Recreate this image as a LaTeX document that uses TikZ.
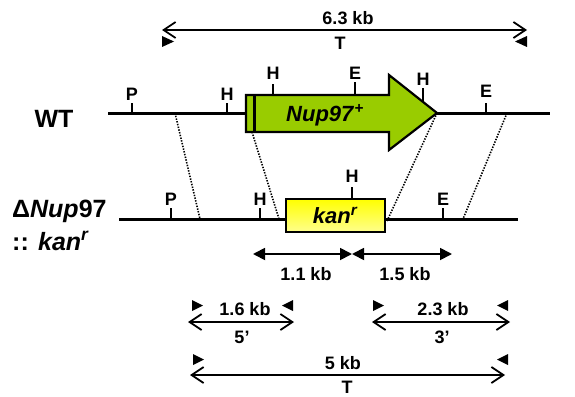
\documentclass[tikz,border=0pt]{standalone}
\usepackage{fontspec}
\setmainfont{Liberation Sans}
\usetikzlibrary{arrows.meta}
\definecolor{nupgreen}{RGB}{153,204,0}
\begin{document}
\begin{tikzpicture}[x=1pt,y=-1pt,
  dna/.style={line width=3pt},
  ticks/.style={line width=2pt},
  site/.style={font=\fontsize{18}{18}\selectfont\bfseries, inner sep=0pt, anchor=base},
  lbl/.style={font=\fontsize{18}{18}\selectfont\bfseries, inner sep=0pt, anchor=base},
  big/.style={font=\fontsize{25}{25}\selectfont\bfseries, inner sep=0pt, anchor=base west},
  hom/.style={dash pattern=on 1.4pt off 1.4pt, line width=1.6pt},
  meas/.style={line width=1.8pt, {Straight Barb[length=12pt,width=16pt]}-{Straight Barb[length=12pt,width=16pt]}},
  frag/.style={line width=1.8pt, {Triangle[length=12pt,width=12pt]}-{Triangle[length=12pt,width=12pt]}},
  kanbox/.style={draw, line width=2.2pt, minimum width=99pt, minimum height=33pt, inner sep=0pt,
    top color=yellow, bottom color=yellow!45!white, font=\fontsize{22}{22}\selectfont\bfseries}
]
\useasboundingbox (0,0) rectangle (575,396);

% ---------- top measurement (6.3 kb, T) ----------
\coordinate (tL) at (162,30);
\coordinate (tR) at (527,30);
\draw[meas] (tL) -- (tR);
\node[lbl] (t63) at (348,25) {6.3 kb};
\node[lbl] (tT) at (340,50) {T};
\fill (162,36) -- (174,41.5) -- (162,47) -- cycle;
\fill (527,36) -- (515,41.5) -- (527,47) -- cycle;

% ---------- WT locus ----------
\node[big, anchor=base] (wt) at (54,127) {WT};
\coordinate (wtL) at (108,113);
\coordinate (wtR) at (550,113);
\draw[dna] (wtL) -- (wtR);
\draw[line width=2.2pt, fill=nupgreen, line join=miter]
  (246,95) -- (389,95) -- (389,75) -- (437,113) -- (389,150) -- (389,132) -- (246,132) -- cycle;
\draw[line width=3pt] (254,95) -- (254,132);
\node[inner sep=0pt, anchor=base, font=\fontsize{22}{22}\selectfont\bfseries] (nup) at (325,121)
  {\textit{Nup97}\textsuperscript{\textit{+}}};

\draw[ticks] (132,113) -- (132,103);
\node[site] (wP) at (132,100) {P};
\draw[ticks] (227,113) -- (227,103);
\node[site] (wH1) at (227,100) {H};
\draw[ticks] (273,95) -- (273,84);
\node[site] (wH2) at (273,79) {H};
\draw[ticks] (355,95) -- (355,82);
\node[site] (wE1) at (355,79) {E};
\draw[ticks] (423,101) -- (423,88);
\node[site] (wH3) at (423,85) {H};
\draw[ticks] (486,113) -- (486,103);
\node[site] (wE2) at (486,97) {E};

% ---------- homology (dotted) ----------
\coordinate (w1) at (175,113);
\coordinate (w2) at (252,132);
\coordinate (w3) at (437,113);
\coordinate (w4) at (507,113);
\coordinate (d1) at (200,219);
\coordinate (d2) at (279,219);
\coordinate (d3) at (387,221);
\coordinate (d4) at (463,219);
\draw[hom] (w1) -- (d1);
\draw[hom] (w2) -- (d2);
\draw[hom] (w3) -- (d3);
\draw[hom] (w4) -- (d4);

% ---------- deletion locus ----------
\node[big] (dname) at (12,217) {Δ\textit{Nup}97};
\node[big] (dname2) at (12,250) {:: \textit{kan}\textsuperscript{\textit{r}}};
\coordinate (dL) at (119,219);
\coordinate (dR) at (518,219);
\draw[dna] (dL) -- (dR);
\node[kanbox] (kan) at (335.5,215.5) {\textit{kan}\textsuperscript{\textit{r}}};

\draw[ticks] (171,219) -- (171,208);
\node[site] (dP) at (171,205) {P};
\draw[ticks] (260,219) -- (260,208);
\node[site] (dH1) at (260,205) {H};
\draw[ticks] (352,199) -- (352,187);
\node[site] (dH2) at (352,182) {H};
\draw[ticks] (443,219) -- (443,208);
\node[site] (dE) at (443,205) {E};

% ---------- probe fragments ----------
\coordinate (f1) at (253,254);
\coordinate (f2) at (352,254);
\coordinate (f3) at (452,254);
\draw[frag] (f1) -- (f2);
\draw[frag] (f2) -- (f3);
\node[lbl] (l11) at (306,280) {1.1 kb};
\node[lbl] (l15) at (405,280) {1.5 kb};

% ---------- 5' PCR ----------
\coordinate (a1) at (188,322);
\coordinate (a2) at (294,322);
\draw[meas] (a1) -- (a2);
\node[lbl] (l16) at (245,315) {1.6 kb};
\node[lbl] (l5p) at (242,343) {5’};
\fill (192,300) -- (203,305.5) -- (192,311) -- cycle;
\fill (293,300) -- (282,305.5) -- (293,311) -- cycle;

% ---------- 3' PCR ----------
\coordinate (b1) at (372,322);
\coordinate (b2) at (510,322);
\draw[meas] (b1) -- (b2);
\node[lbl] (l23) at (443,315) {2.3 kb};
\node[lbl] (l3p) at (442,343) {3’};
\fill (373,300) -- (384,305.5) -- (373,311) -- cycle;
\fill (508,300) -- (497,305.5) -- (508,311) -- cycle;

% ---------- total ----------
\coordinate (c1) at (190,375);
\coordinate (c2) at (505,375);
\draw[meas] (c1) -- (c2);
\node[lbl] (l5) at (343,369) {5 kb};
\node[lbl] (lT) at (347,393) {T};
\fill (193,354) -- (204,359.5) -- (193,365) -- cycle;
\fill (508,354) -- (497,359.5) -- (508,365) -- cycle;
\end{tikzpicture}
\end{document}
